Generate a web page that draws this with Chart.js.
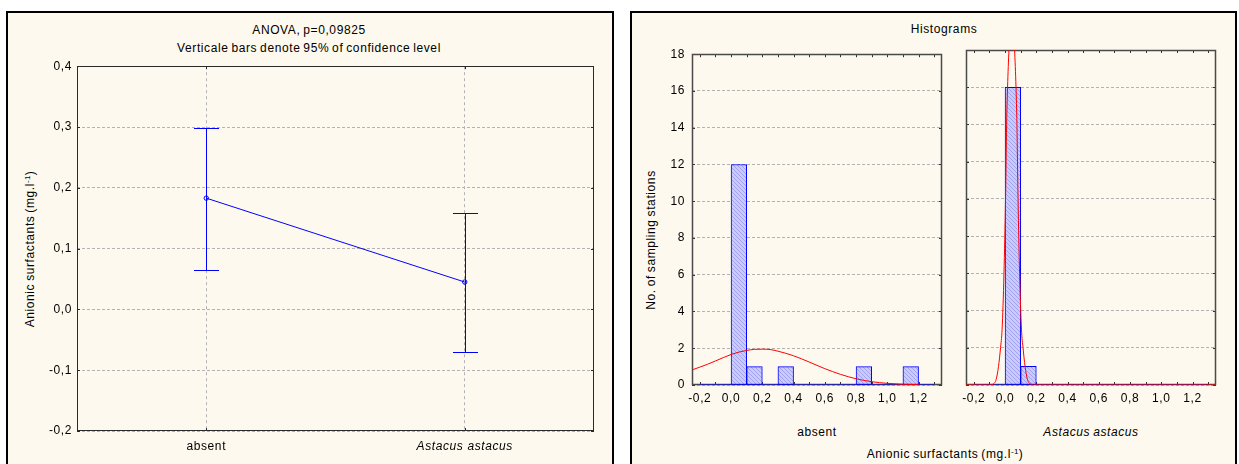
<!DOCTYPE html>
<html>
<head>
<meta charset="utf-8">
<title>Anionic surfactants: ANOVA and histograms</title>
<script src="https://cdn.jsdelivr.net/npm/chart.js@4.4.1/dist/chart.umd.min.js"></script>
<style>
  html, body { margin: 0; padding: 0; background: #fff; }
  body { width: 1239px; height: 464px; position: relative; overflow: hidden;
         font-family: "Liberation Sans", Arial, sans-serif; font-size: 12px; color: #000; }
  .panel { position: absolute; box-sizing: border-box; background: #fdf9ee; border: 2px solid #000; }
  .box { position: absolute; }
  .box canvas { display: block; }
  .txt { position: absolute; white-space: nowrap; line-height: 14px; letter-spacing: 0.6px;
         word-spacing: -1px; transform: translate(-50%, -50%); }
  .vert { transform: translate(-50%, -50%) rotate(-90deg); }
  .it { font-style: italic; }
  sup { font-size: 8px; vertical-align: baseline; position: relative; top: -4px; letter-spacing: 0.3px; }
</style>
</head>
<body>
<div class="panel" style="left:6px;top:11px;width:608px;height:470px"></div>
<div class="panel" style="left:630px;top:11px;width:607px;height:470px"></div>

<div class="txt" style="left:309px;top:30px">ANOVA, p=0,09825</div>
<div class="txt" style="left:309px;top:48px">Verticale bars denote 95% of confidence level</div>
<div class="txt vert" style="left:31px;top:249px">Anionic surfactants (mg.l<sup>-1</sup>)</div>

<div class="txt" style="left:944px;top:29px">Histograms</div>
<div class="txt vert" style="left:651px;top:240px">No. of sampling stations</div>
<div class="txt" style="left:817px;top:432px">absent</div>
<div class="txt it" style="left:1091px;top:432px">Astacus astacus</div>
<div class="txt" style="left:945px;top:455px">Anionic surfactants (mg.l<sup>-1</sup>)</div>

<div class="box" style="left:17px;top:54px"><canvas id="anova" width="589" height="410"></canvas></div>
<div class="box" style="left:652px;top:40px"><canvas id="histAbsent" width="302" height="375"></canvas></div>
<div class="box" style="left:956px;top:40px"><canvas id="histAstacus" width="272" height="375"></canvas></div>

<script>
// ---------- ANOVA means with 95% confidence intervals ----------
const groups = ['absent', 'Astacus astacus'];
const groupMeans = [0.183, 0.045];
const ciLower = [0.064, -0.070];
const ciUpper = [0.299, 0.158];
const anovaYTicks = [-0.2, -0.1, 0.0, 0.1, 0.2, 0.3, 0.4];

// ---------- histograms (bin width 0.1 mg/l) ----------
const binLower = [-0.2, -0.1, 0.0, 0.1, 0.2, 0.3, 0.4, 0.5, 0.6, 0.7, 0.8, 0.9, 1.0, 1.1, 1.2];
const binWidth = 0.1;
const countsAbsent  = [0, 0, 12, 1, 0, 1, 0, 0, 0, 0, 1, 0, 0, 1, 0];
const countsAstacus = [0, 0, 16, 1, 0, 0, 0, 0, 0, 0, 0, 0, 0, 0, 0];
const histXTicks = [-0.2, 0.0, 0.2, 0.4, 0.6, 0.8, 1.0, 1.2];
const histXMinor = [-0.2, -0.1, 0.0, 0.1, 0.2, 0.3, 0.4, 0.5, 0.6, 0.7, 0.8, 0.9, 1.0, 1.1, 1.2, 1.3];
const histYTicks = [0, 2, 4, 6, 8, 10, 12, 14, 16, 18];

// fitted normal curves (expected counts per bin)
const normAbsentX = [-0.25, -0.15, -0.05, 0.0, 0.05, 0.1, 0.15, 0.2, 0.25, 0.3, 0.4, 0.5, 0.6, 0.7, 0.8, 0.9, 1.0, 1.1, 1.2];
const normAbsentY = [0.82, 1.13, 1.49, 1.66, 1.79, 1.88, 1.94, 1.95, 1.93, 1.84, 1.59, 1.25, 0.89, 0.58, 0.34, 0.18, 0.09, 0.04, 0.02];
const normAstacusX = [-0.25, -0.1, -0.077, -0.057, -0.042, -0.029, -0.019, -0.007, 0.003, 0.010, 0.016, 0.025, 0.043,
                      0.061, 0.070, 0.076, 0.083, 0.093, 0.105, 0.115, 0.128, 0.143, 0.163, 0.186, 1.35];
const normAstacusY = [0, 0, 0.05, 0.3, 1.0, 2.0, 3.0, 6.0, 10.0, 14.0, 16.0, 18.0, 20.5,
                      18.0, 16.0, 14.0, 10.0, 6.0, 3.0, 2.0, 1.0, 0.3, 0.05, 0, 0];

// ---------- shared settings ----------
const FONT = '"Liberation Sans", Arial, sans-serif';
const FONT_SIZE = 12;
Chart.defaults.font.family = FONT;
Chart.defaults.font.size = FONT_SIZE;
Chart.defaults.color = '#000';
Chart.defaults.animation = false;
Chart.defaults.plugins.legend.display = false;
Chart.defaults.plugins.tooltip.enabled = false;

const BLUE = '#0000ff';
const RED = '#ff0000';
const GRID = '#b3b3b3';

// slightly spaced lettering used by all labels
Chart.register({ id: 'textSpacing', beforeDraw(chart) { chart.ctx.letterSpacing = '0.6px'; } });

const fixWidth = w => scale => { scale.width = w; };
const fixHeight = h => scale => { scale.height = h; };
const setTicks = values => scale => { scale.ticks = values.map(v => ({ value: v })); };
const comma = v => Number(v).toFixed(1).replace('.', ',');

// plot frame with short inward tick marks
const framePlugin = {
  id: 'frame',
  beforeDatasetsDraw(chart, args, o) {
    const { ctx, chartArea: a } = chart;
    const xs = chart.scales.x, ys = chart.scales.y;
    const px = v => Math.round(v) + 0.5;
    ctx.save();
    ctx.lineWidth = 1;
    ctx.strokeStyle = o.tickColor;
    ctx.beginPath();
    (o.yMarks || []).forEach(v => {
      const y = px(ys.getPixelForValue(v));
      ctx.moveTo(a.left, y); ctx.lineTo(a.left + o.len, y);
      ctx.moveTo(a.right - o.len, y); ctx.lineTo(a.right, y);
    });
    (o.xMarks || []).forEach(v => {
      const x = px(xs.getPixelForValue(v));
      ctx.moveTo(x, a.top); ctx.lineTo(x, a.top + o.len);
      ctx.moveTo(x, a.bottom - o.len); ctx.lineTo(x, a.bottom);
    });
    ctx.stroke();
    ctx.lineWidth = o.width;
    ctx.strokeStyle = o.color;
    const l = px(a.left), t = px(a.top), r = px(a.right) - 1, b = px(a.bottom) - 1;
    ctx.strokeRect(l, t, r - l, b - t);
    ctx.restore();
  }
};

// vertical confidence-interval bars with caps
const errorBars = {
  id: 'errorBars',
  beforeDatasetsDraw(chart, args, o) {
    const { ctx } = chart;
    const xs = chart.scales.x, ys = chart.scales.y;
    ctx.save();
    ctx.strokeStyle = o.color;
    ctx.lineWidth = 1;
    o.lower.forEach((lo, i) => {
      const x = Math.round(xs.getPixelForValue(i)) + 0.5;
      const y1 = Math.round(ys.getPixelForValue(lo)) + 0.5;
      const y2 = Math.round(ys.getPixelForValue(o.upper[i])) + 0.5;
      ctx.beginPath();
      ctx.moveTo(x, y1); ctx.lineTo(x, y2);
      ctx.moveTo(x - o.cap, y1); ctx.lineTo(x + o.cap, y1);
      ctx.moveTo(x - o.cap, y2); ctx.lineTo(x + o.cap, y2);
      ctx.stroke();
    });
    ctx.restore();
  }
};

// ---------- ANOVA chart ----------
new Chart(document.getElementById('anova'), {
  type: 'line',
  data: {
    labels: groups,
    datasets: [{
      data: groupMeans,
      borderColor: BLUE,
      borderWidth: 1,
      pointRadius: 2.2,
      pointBorderWidth: 1,
      pointBorderColor: BLUE,
      pointBackgroundColor: 'rgba(0,0,0,0)',
      tension: 0
    }]
  },
  options: {
    responsive: false,
    layout: { padding: { top: 12, right: 12, left: 0, bottom: 0 } },
    scales: {
      x: {
        type: 'category',
        offset: true,
        afterFit: fixHeight(33),
        grid: { color: GRID, lineWidth: 1, drawTicks: false },
        border: { display: false, dash: [3, 3] },
        ticks: {
          padding: 8,
          maxRotation: 0,
          font: ctx => ({ family: FONT, size: FONT_SIZE, style: ctx.index === 1 ? 'italic' : 'normal' })
        }
      },
      y: {
        min: -0.2, max: 0.4,
        afterBuildTicks: setTicks(anovaYTicks),
        afterFit: fixWidth(60),
        grid: { color: GRID, lineWidth: 1, drawTicks: false },
        border: { display: false, dash: [3, 2] },
        ticks: { padding: 5, callback: v => comma(v) }
      }
    },
    plugins: {
      frame: { color: '#2a2a2a', width: 1, tickColor: '#2a2a2a', len: 3,
               yMarks: anovaYTicks, xMarks: [0, 1] },
      errorBars: { color: BLUE, lower: ciLower, upper: ciUpper, cap: 12.5 }
    }
  },
  plugins: [framePlugin, errorBars]
});

// ---------- histograms ----------
function hatchFill() {
  const c = document.createElement('canvas');
  c.width = 4; c.height = 4;
  const g = c.getContext('2d');
  g.fillStyle = '#cacafb';
  g.fillRect(0, 0, 4, 4);
  g.strokeStyle = '#a2a2f2';
  g.lineWidth = 1;
  g.beginPath();
  g.moveTo(0, 0); g.lineTo(4, 4);
  g.stroke();
  return g.createPattern(c, 'repeat');
}

function histogram(id, counts, curveX, curveY, showYLabels, axisWidth) {
  const bars = binLower.map((lo, i) => ({ x: lo + binWidth / 2, y: counts[i] }));
  const curve = curveX.map((x, i) => ({ x, y: curveY[i] }));
  const zeroLine = [{ x: binLower[0], y: 0 }, { x: binLower[binLower.length - 1] + binWidth, y: 0 }];
  return new Chart(document.getElementById(id), {
    type: 'bar',
    data: {
      datasets: [
        { type: 'line', data: curve, borderColor: RED, borderWidth: 1, pointRadius: 0,
          cubicInterpolationMode: 'monotone', order: 0 },
        { type: 'line', data: zeroLine, borderColor: BLUE, borderWidth: 1, pointRadius: 0, order: 1 },
        { type: 'bar', data: bars, backgroundColor: hatchFill(), borderColor: BLUE, borderWidth: 1,
          borderSkipped: false, barPercentage: 1, categoryPercentage: 1, order: 2 }
      ]
    },
    options: {
      responsive: false,
      layout: { padding: { top: 10, right: 12, left: 0, bottom: 0 } },
      scales: {
        x: {
          type: 'linear',
          min: -0.25, max: 1.35,
          offset: false,
          afterBuildTicks: setTicks(histXTicks),
          afterFit: fixHeight(30),
          grid: { display: false, drawTicks: false },
          border: { display: false },
          ticks: { padding: 6, maxRotation: 0, autoSkip: false, callback: v => comma(v) }
        },
        y: {
          min: 0, max: 18,
          afterBuildTicks: setTicks(histYTicks),
          afterFit: fixWidth(axisWidth),
          grid: { color: GRID, lineWidth: 1, drawTicks: false },
          border: { display: false, dash: [3, 2] },
          ticks: { display: showYLabels, padding: 7, callback: v => String(v) }
        }
      },
      plugins: {
        frame: { color: '#4a4a4a', width: 1.5, tickColor: '#333', len: 3,
                 yMarks: histYTicks, xMarks: histXMinor }
      }
    },
    plugins: [framePlugin]
  });
}

histogram('histAbsent', countsAbsent, normAbsentX, normAbsentY, true, 40);
histogram('histAstacus', countsAstacus, normAstacusX, normAstacusY, false, 10);
</script>
</body>
</html>
